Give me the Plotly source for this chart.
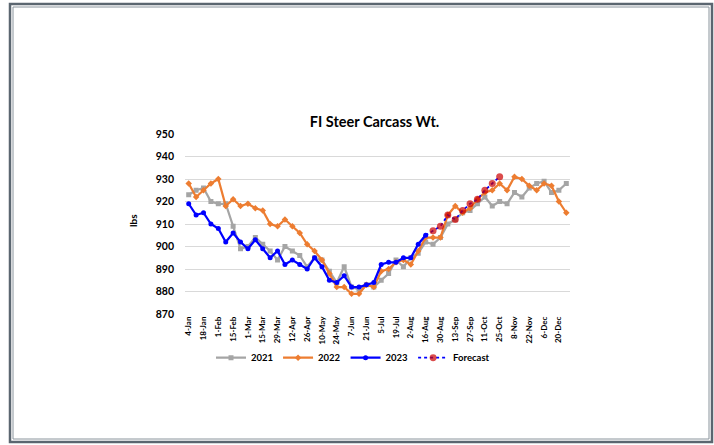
import plotly.graph_objects as go

weeks = ["4-Jan", "11-Jan", "18-Jan", "25-Jan", "1-Feb", "8-Feb", "15-Feb", "22-Feb",
         "1-Mar", "8-Mar", "15-Mar", "22-Mar", "29-Mar", "5-Apr", "12-Apr", "19-Apr",
         "26-Apr", "3-May", "10-May", "17-May", "24-May", "31-May", "7-Jun", "14-Jun",
         "21-Jun", "28-Jun", "5-Jul", "12-Jul", "19-Jul", "26-Jul", "2-Aug", "9-Aug",
         "16-Aug", "23-Aug", "30-Aug", "6-Sep", "13-Sep", "20-Sep", "27-Sep", "4-Oct",
         "11-Oct", "18-Oct", "25-Oct", "1-Nov", "8-Nov", "15-Nov", "22-Nov", "29-Nov",
         "6-Dec", "13-Dec", "20-Dec", "27-Dec"]
tick_labels = weeks[::2]

y2021 = [923, 925, 926, 920, 919, 919, 909, 899, 900, 904, 901, 898, 894, 900, 898, 896,
         891, 895, 894, 889, 884, 891, 882, 881, 883, 882, 885, 888, 894, 891, 895, 897,
         902, 901, 904, 910, 912, 915, 916, 919, 922, 918, 920, 919, 924, 922, 926, 928,
         929, 924, 925, 928]
y2022 = [928, 922, 925, 928, 930, 918, 921, 918, 919, 917, 916, 910, 909, 912, 909, 906,
         901, 898, 894, 888, 882, 882, 879, 879, 883, 882, 889, 890, 893, 894, 892, 898,
         904, 904, 904, 914, 918, 915, 917, 921, 924, 925, 928, 925, 931, 930, 927, 925,
         928, 927, 920, 915]
y2023 = [919, 914, 915, 910, 908, 902, 906, 902, 899, 903, 899, 895, 898, 892, 894, 892,
         890, 895, 891, 885, 884, 887, 882, 882, 883, 884, 892, 893, 893, 895, 895, 901,
         905] + [None] * 19
forecast = [None] * 32 + [905, 907, 909, 914, 912, 916, 919, 921, 925, 928, 931] + [None] * 9

FONT = "Lato"
fc_sizes = [0 if i == 32 else 7 for i in range(len(weeks))]

fig = go.Figure()
fig.add_trace(go.Scatter(x=weeks, y=y2021, name="2021", mode="lines+markers",
                         line=dict(color="#A5A5A5", width=2.25),
                         marker=dict(symbol="square", size=5, color="#A5A5A5")))
fig.add_trace(go.Scatter(x=weeks, y=y2022, name="2022", mode="lines+markers",
                         line=dict(color="#ED7D31", width=2.25),
                         marker=dict(symbol="diamond", size=5, color="#ED7D31")))
fig.add_trace(go.Scatter(x=weeks, y=y2023, name="2023", mode="lines+markers",
                         line=dict(color="#0000FF", width=2.25),
                         marker=dict(symbol="circle", size=5, color="#0000FF")))
fig.add_trace(go.Scatter(x=weeks, y=forecast, name="Forecast", mode="lines+markers",
                         line=dict(color="#0000FF", width=1.75, dash="dot"),
                         marker=dict(symbol="circle", size=fc_sizes, color="#CC0000",
                                     line=dict(width=0, color="#CC0000"))))

# double frame around the chart area
def px_x(v):
    return (v - 185) / 385.0

def px_y(v):
    return (314 - v) / 180.0

shapes = [
    dict(type="rect", xref="paper", yref="paper", x0=px_x(10), x1=px_x(712),
         y0=px_y(442), y1=px_y(4), line=dict(color="#5B6670", width=2.5)),
    dict(type="rect", xref="paper", yref="paper", x0=px_x(13), x1=px_x(709),
         y0=px_y(439), y1=px_y(7), line=dict(color="#8A949C", width=1)),
]

fig.update_layout(
    width=714, height=445,
    margin=dict(l=185, r=144, t=134, b=131),
    paper_bgcolor="white", plot_bgcolor="white",
    font=dict(family=FONT, color="#000000"),
    title=dict(text="FI Steer Carcass Wt.", font=dict(family=FONT, size=14.5, weight="bold", color="#000000"),
               xref="container", x=374.5 / 714, xanchor="center",
               yref="container", y=1 - 121.7 / 445, yanchor="middle"),
    xaxis=dict(type="category", categoryorder="array", categoryarray=weeks,
               tickmode="array", tickvals=tick_labels, ticktext=tick_labels,
               tickangle=-90, tickfont=dict(family=FONT, size=8, weight="bold", color="#000000"),
               showgrid=False, showline=False, zeroline=False, ticks="",
               range=[-0.5, len(weeks) - 0.5], fixedrange=True),
    yaxis=dict(range=[870, 950], dtick=10, tick0=870,
               gridcolor="#D9D9D9", gridwidth=1, zeroline=False, showline=False,
               ticks="", ticklabelstandoff=10,
               tickfont=dict(family=FONT, size=10.5, weight="bold", color="#000000")),
    legend=dict(orientation="h", x=px_x(353), xanchor="center", y=px_y(357.7), yanchor="middle",
                font=dict(family=FONT, size=9.5, weight="bold", color="#000000"),
                itemwidth=30, bgcolor="rgba(0,0,0,0)"),
    shapes=shapes,
    annotations=[dict(text="lbs", xref="paper", yref="paper", x=px_x(133), y=px_y(221),
                      xanchor="center", yanchor="middle", textangle=-90, showarrow=False,
                      font=dict(family=FONT, size=10, weight="bold", color="#000000"))],
    showlegend=True,
    hovermode=False,
)

fig.write_html("out.html", config={"displayModeBar": False, "staticPlot": True},
               post_script="document.body.style.margin='0';document.body.style.overflow='hidden';")
